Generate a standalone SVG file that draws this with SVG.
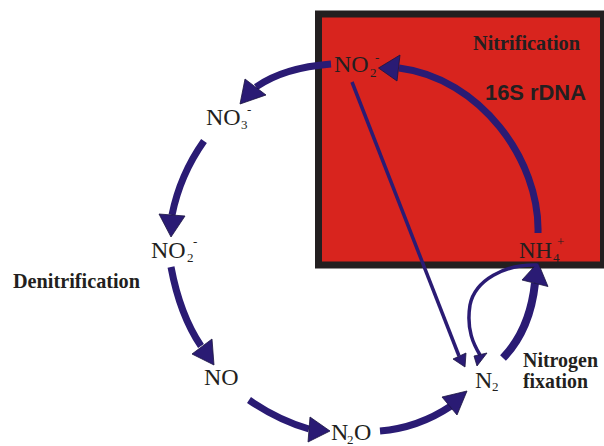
<svg xmlns="http://www.w3.org/2000/svg" width="604" height="446" viewBox="0 0 604 446">
<style>
.lbl{font-family:"Liberation Serif","Times New Roman",serif;font-size:24px;fill:#231f20}
.sub{font-size:13px}
.bold{font-family:"Liberation Serif","Times New Roman",serif;font-weight:bold;font-size:21px;fill:#231f20}
.sans{font-family:"Liberation Sans",Arial,sans-serif;font-weight:bold;font-size:21.5px;fill:#231f20}
.thick{fill:none;stroke:#2a1b74;stroke-width:7}
.thin{fill:none;stroke:#2a1b74;stroke-width:3.5}
.head{fill:#2a1b74;stroke:#1a1440;stroke-width:0.8;stroke-linejoin:miter}
</style>
<rect width="604" height="446" fill="#ffffff"/>
<g id="nitrification-box">
<rect x="318.5" y="14" width="285" height="251" fill="#d8241e" stroke="#231f20" stroke-width="7"/>
<text class="bold" x="473" y="50" textLength="107" lengthAdjust="spacingAndGlyphs">Nitrification</text>
<text class="sans" x="485" y="100" textLength="101" lengthAdjust="spacingAndGlyphs">16S rDNA</text>
</g>
<g id="connectors">
<path class="thick" d="M331,64 C305,66 276,73 256,87"/>
<polygon class="head" points="245,79 266,95 240,104"/>
<path class="thick" d="M204,141 Q180,175 172,215"/>
<polygon class="head" points="159,214 185,216 171,237"/>
<path class="thick" d="M171,267 Q180,315 201,346"/>
<polygon class="head" points="212,339 192,354 214,365"/>
<path class="thick" d="M249,400 Q278,420 309,429"/>
<polygon class="head" points="310,417 308,442 330,431"/>
<path class="thick" d="M380,431 C405,429 430,420 451,406"/>
<polygon class="head" points="442,397 457,415 467,391"/>
<path class="thick" d="M503,358 Q530,330 535,283" style="stroke-width:8"/>
<polygon class="head" points="522,280 548,286.5 538,262.5"/>
<path class="thick" d="M538,233 C540,160 480,78 399,68"/>
<polygon class="head" points="400,55 397,81 378.5,68"/>
<path class="thin" d="M352,82 L459,356"/>
<polygon class="head" points="453,359 466,353 465,367"/>
<path class="thin" d="M537,265 C505,264 475,280 470,305 C466,330 474,345 480,355"/>
<polygon class="head" points="474,356 487,353 477,366"/>
</g>
<g id="node-no2-top">
<text class="lbl" x="334" y="72">NO</text>
<text class="lbl sub" x="370" y="77">2</text>
<text class="lbl sub" x="375" y="62">-</text>
</g>
<g id="node-no3">
<text class="lbl" x="206" y="124.5">NO</text>
<text class="lbl sub" x="241" y="129">3</text>
<text class="lbl sub" x="247" y="114">-</text>
</g>
<g id="node-no2-left">
<text class="lbl" x="151" y="258">NO</text>
<text class="lbl sub" x="187" y="262">2</text>
<text class="lbl sub" x="193" y="246">-</text>
</g>
<g id="label-denitrification">
<text class="bold" x="13" y="288" textLength="127" lengthAdjust="spacingAndGlyphs">Denitrification</text>
</g>
<g id="node-no">
<text class="lbl" x="204" y="385">NO</text>
</g>
<g id="node-n2o">
<text class="lbl" x="331" y="440">N</text>
<text class="lbl sub" x="347" y="444">2</text>
<text class="lbl" x="354" y="440">O</text>
</g>
<g id="node-n2">
<text class="lbl" x="475" y="387.5">N</text>
<text class="lbl sub" x="492" y="391">2</text>
</g>
<g id="label-fixation">
<text class="bold" x="523" y="367" textLength="75" lengthAdjust="spacingAndGlyphs">Nitrogen</text>
<text class="bold" x="523" y="388" textLength="65" lengthAdjust="spacingAndGlyphs">fixation</text>
</g>
<g id="node-nh4">
<text class="lbl" x="519" y="258" textLength="33" lengthAdjust="spacingAndGlyphs">NH</text>
<text class="lbl sub" x="553" y="262">4</text>
<text class="lbl sub" x="557" y="246">+</text>
</g>
</svg>
